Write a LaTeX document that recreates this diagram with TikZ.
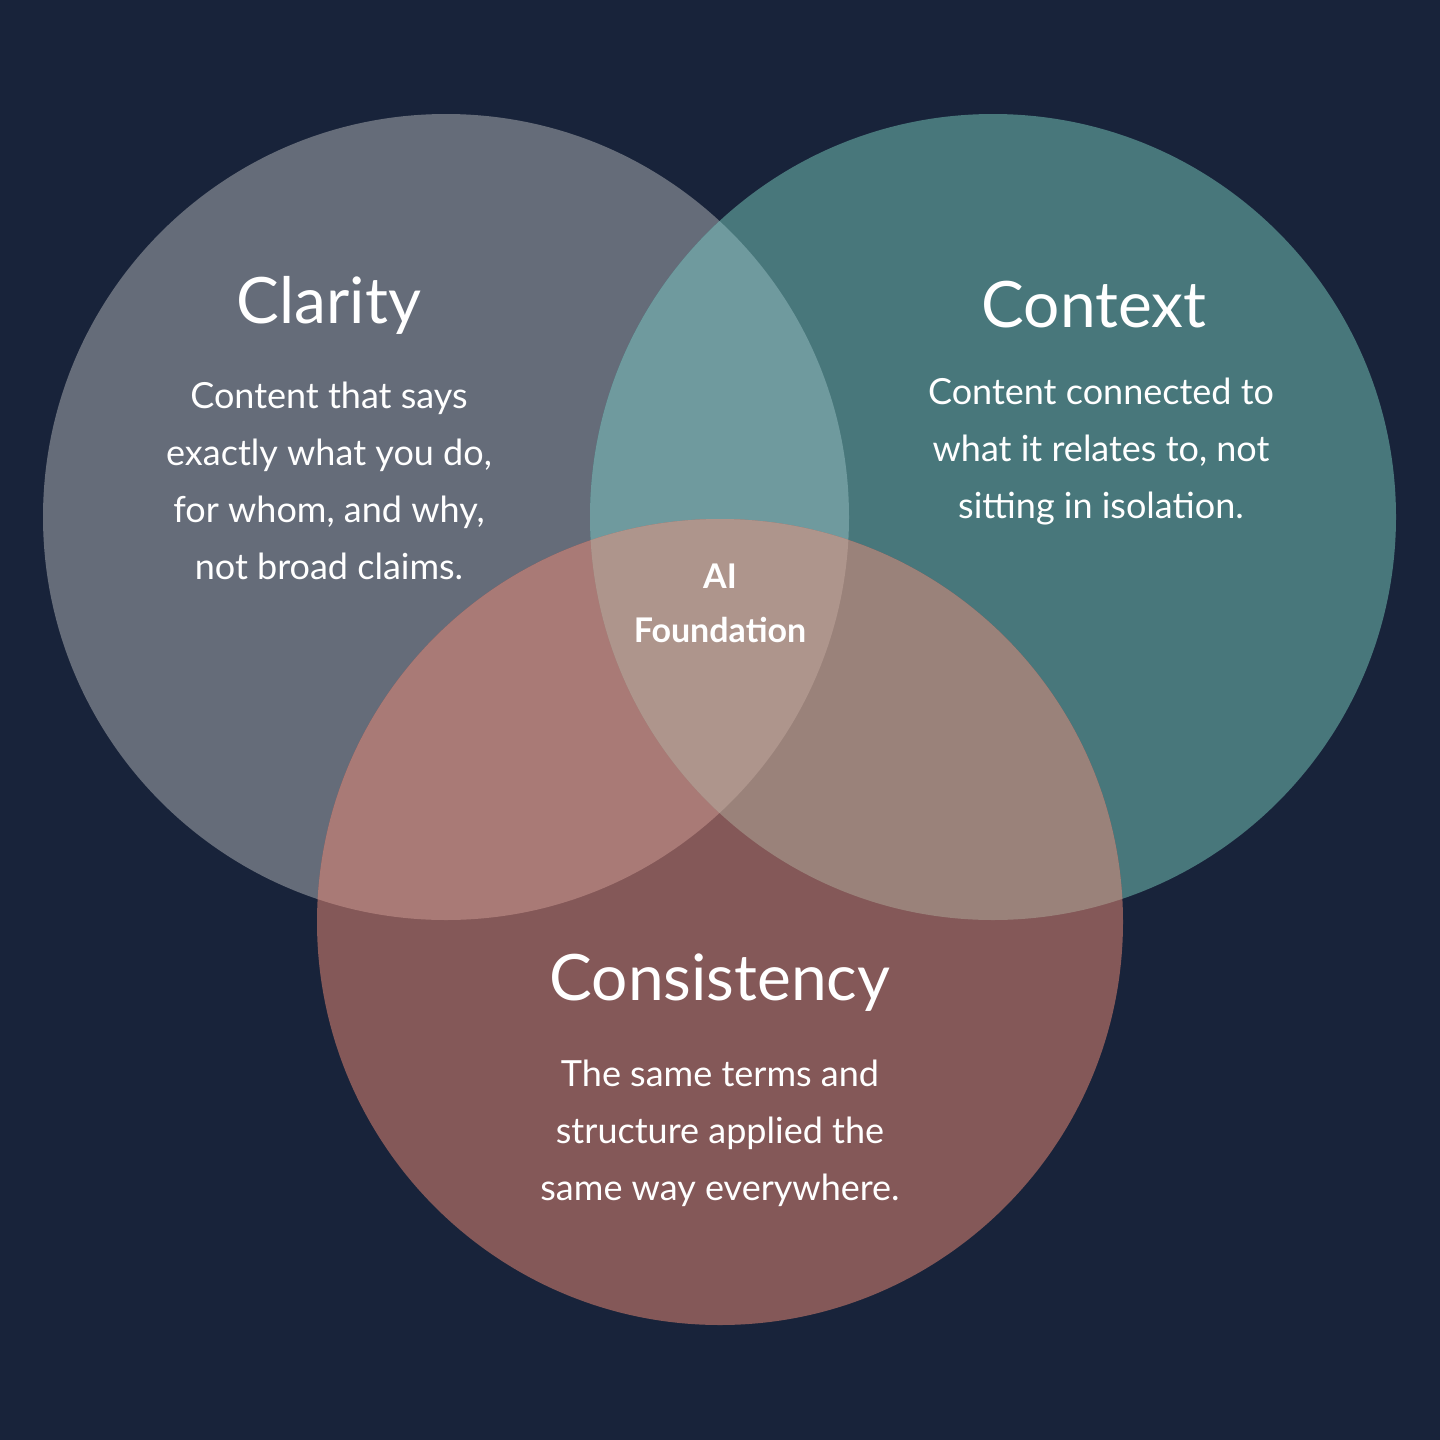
\documentclass[tikz,border=0pt]{standalone}
\usepackage{fontspec}
\setmainfont{Lato}
\definecolor{bg}{HTML}{18233A}
\definecolor{ca}{HTML}{656C79}
\definecolor{cb}{HTML}{48777B}
\definecolor{cc}{HTML}{845858}
\definecolor{cab}{HTML}{6F9A9E}
\definecolor{cac}{HTML}{A97A76}
\definecolor{cbc}{HTML}{9A827A}
\definecolor{cabc}{HTML}{AE958C}
\begin{document}
\begin{tikzpicture}[x=1pt,y=-1pt,
  title/.style={text=white,font=\fontsize{64}{70}\selectfont},
  body/.style={text=white,font=\fontsize{36}{57}\selectfont,align=center},
  mid/.style={text=white,font=\bfseries\fontsize{34}{54}\selectfont,align=center}]
\fill[bg] (0,0) rectangle (1440,1440);
\useasboundingbox (0,0) rectangle (1440,1440);
\def\A{(446,517) circle (403)}
\def\B{(993,517) circle (403)}
\def\C{(720,922) circle (403)}
\fill[ca] \A; \fill[cb] \B; \fill[cc] \C;
\begin{scope}\clip \A; \fill[cab] \B; \end{scope}
\begin{scope}\clip \A; \fill[cac] \C; \end{scope}
\begin{scope}\clip \B; \fill[cbc] \C; \end{scope}
\begin{scope}\clip \A; \clip \B; \fill[cabc] \C; \end{scope}
\node[title] (t1) at (329,305) {Clarity};
\node[body] (b1) at (329,481) {Content that says\\exactly what you do,\\for whom, and why,\\not broad claims.};
\node[title] (t2) at (1094,305) {Context};
\node[body] (b2) at (1101,452) {Content connected to\\what it relates to, not\\sitting in isolation.};
\node[title] (t3) at (720,983) {Consistency};
\node[body] (b3) at (720,1133) {The same terms and\\structure applied the\\same way everywhere.};
\node[mid] (m) at (720,603) {AI\\Foundation};
\end{tikzpicture}
\end{document}
